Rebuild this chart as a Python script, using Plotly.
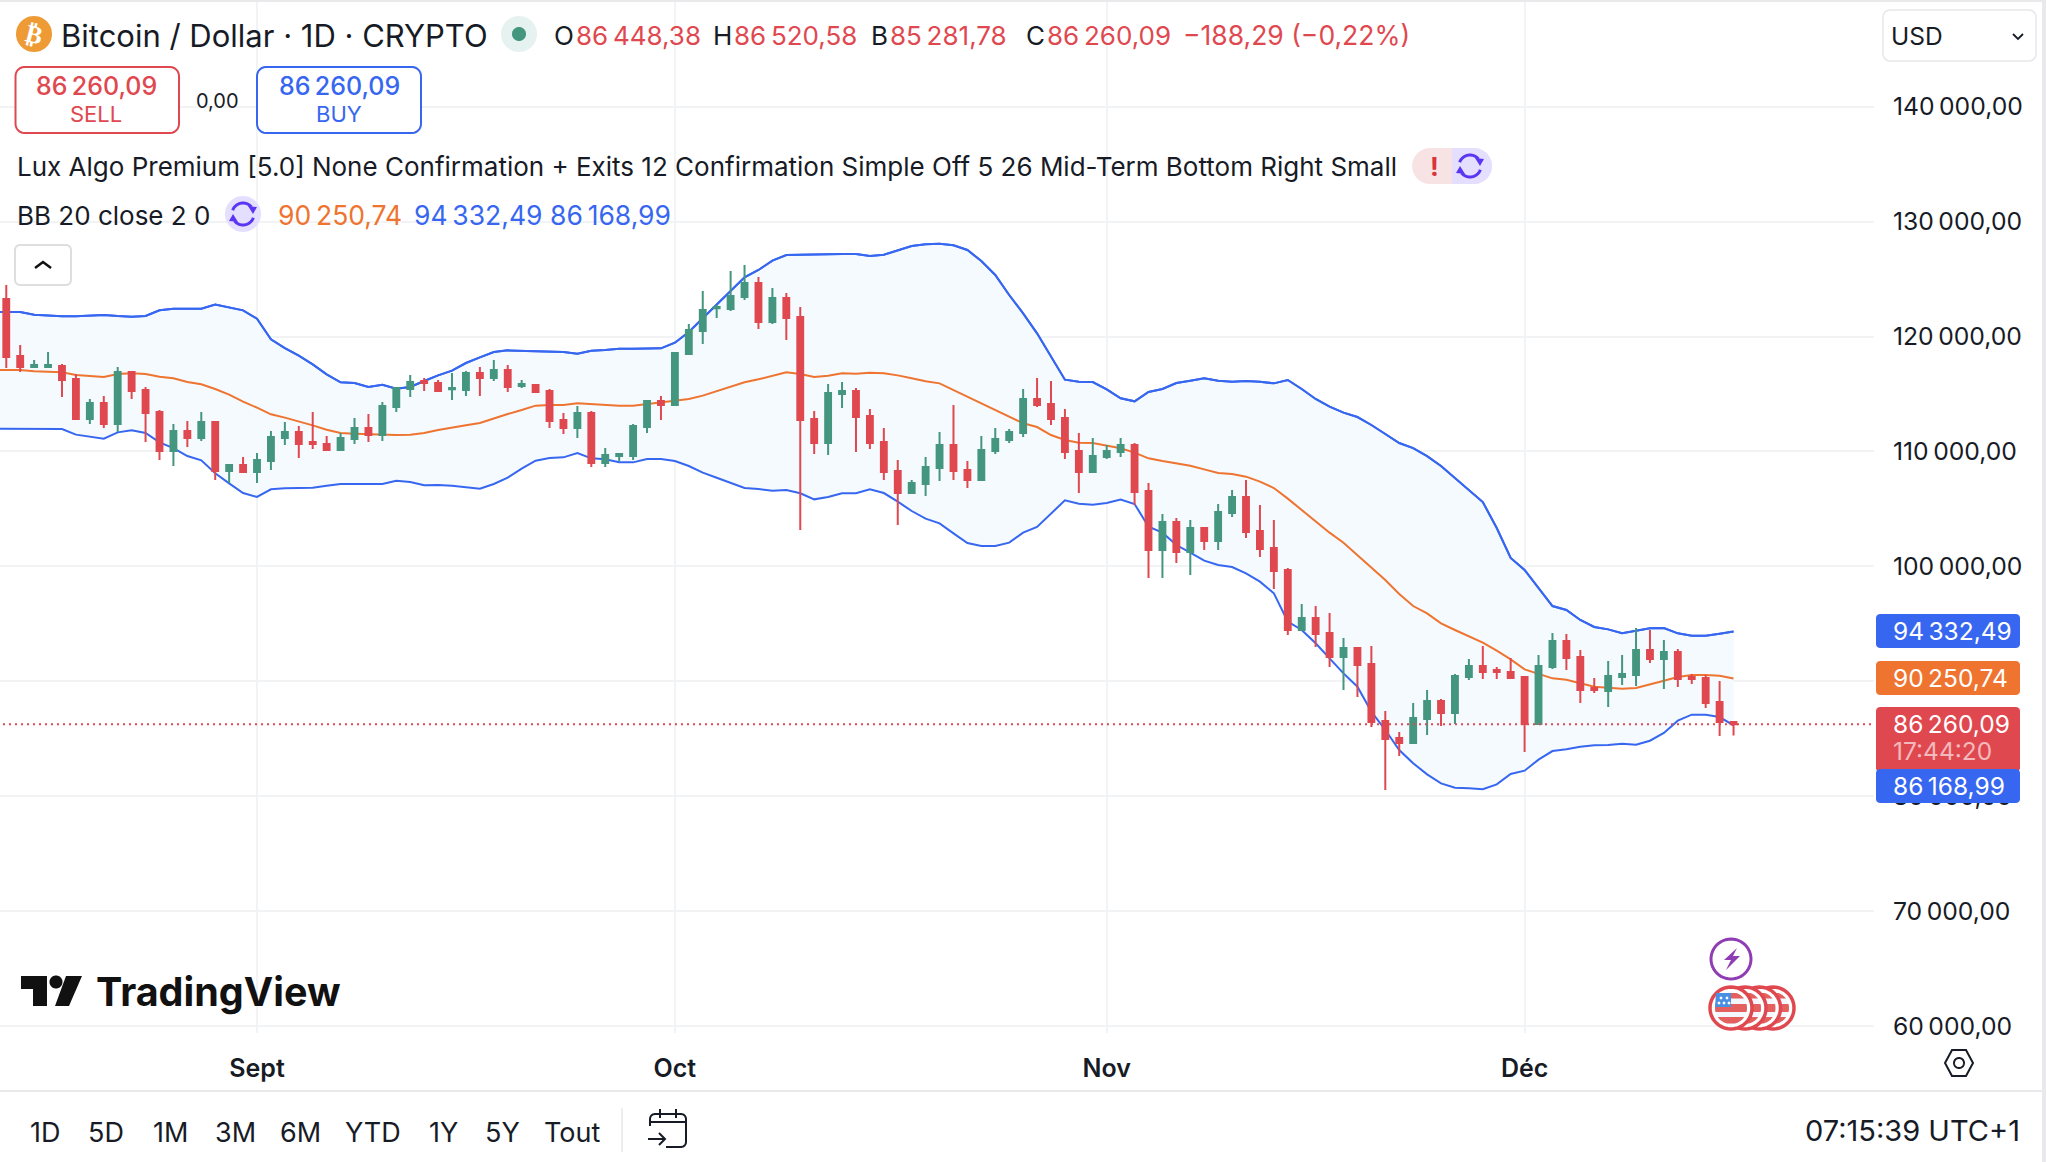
import math
import pandas as pd
import plotly.graph_objects as go

W = 2046
H = 1162
FIG_H = 1170

open_ = [
    123270,118310,117350,117350,117440,116310,112830,114220,112390,116915,
    115350,113435,110040,111780,111170,112565,108300,108820,108215,109170,
    111170,111700,110825,110650,110130,111085,112045,111435,113870,115435,
    116135,115960,115410,115350,116830,116395,117090,115700,115785,115265,
    112740,112045,113350,108995,109610,109610,112130,114395,114045,118485,
    120485,122460,122400,123445,124665,121270,123355,121705,112825,110740,
    115005,115265,113090,110825,108300,106385,107170,108560,110560,108390,
    107520,110040,111000,111610,114570,114135,112915,110040,108215,109520,
    109955,110565,106560,101425,103860,101250,103340,102210,104645,106040,
    103080,101600,99685,94465,95510,94200,92115,92900,91505,86545,
    85065,84630,86720,88285,87240,90375,91330,90985,90810,90375,
    86285,91245,93510,92115,89415,89155,90375,90550,92720,91940,
    92550,90375,90285,88200,86448.38,
]
high = [
    124490,119270,117960,118660,117615,116740,114570,114830,117350,117000,
    115610,113610,112390,112650,113435,112650,108910,109520,109870,111780,
    112565,112220,113435,111350,111610,112915,113265,114305,115525,116655,
    116395,116220,116830,117000,117350,117960,117530,116220,115875,115435,
    113350,113960,113525,110305,109785,112390,114480,114830,118660,121095,
    123965,122750,125710,126230,125185,124225,123795,122575,113525,115875,
    116045,115525,113700,112045,109260,107520,109520,111700,114045,109170,
    111350,112045,111960,115440,116395,116135,113700,111610,111175,110565,
    111175,110740,107260,104560,104210,104040,103340,105430,106650,107520,
    105345,104040,99860,96725,96550,95945,93770,92985,93070,87415,
    85585,88110,89240,88460,90635,91940,93070,91245,92025,90460,
    92290,94200,94115,92725,90285,91765,92290,94640,94465,93595,
    92810,90635,90550,90025,86520.58,
]
low = [
    117265,116915,117265,117265,114740,112830,112390,112040,111700,114570,
    110825,109260,108735,110390,110910,107520,107260,108130,107260,108390,
    110560,109435,110215,110040,110130,110650,110825,110910,113435,114740,
    115265,115175,114480,114830,114830,116135,115175,115525,115175,112045,
    111520,111170,108650,108650,109170,109260,111610,112740,113960,118395,
    119355,121620,122225,123185,120660,121095,119700,103165,109780,109695,
    113785,109955,110215,107520,103600,106385,106125,107430,107520,106825,
    107520,109780,110740,111260,113870,112305,109345,106390,108215,109345,
    109520,105345,98990,98990,100295,99250,101425,101425,104300,102470,
    100815,98030,94030,94465,92985,91245,89240,88630,86020,80540,
    83500,84630,85325,86110,86285,90110,90200,90200,90285,83845,
    86285,91070,90985,88110,88980,87765,89675,89590,91590,89330,
    89505,89765,87675,85240,85281.78,
]
close = [
    118220,117350,117530,117530,116220,112830,114220,112390,116915,115265,
    113350,110040,111780,111170,112565,108300,108820,108215,109260,111260,
    111700,110650,110650,110130,111170,112045,111435,113960,115525,116045,
    115960,115265,115525,116830,116395,117090,115610,115875,115175,112650,
    112045,113350,108995,109695,109785,112220,114395,114045,118570,120575,
    122315,122575,123530,124665,121270,123355,121620,112740,110740,115090,
    115265,112995,110740,108215,106385,107260,108650,110560,108300,107520,
    110130,111085,111700,114570,114045,112827,109955,108215,109610,110040,
    110565,106475,101425,103860,101250,103340,102210,104735,106040,102995,
    101515,99600,94465,95510,94115,92115,92900,91415,86460,84980,
    84630,86805,88285,87240,90460,91330,90810,90810,90285,86285,
    91330,93510,92025,89240,89240,90460,90635,92720,91940,92550,
    90200,90200,88110,86448.38,86260.09,
]

# bollinger bands, one day longer than the candles on the left
bb_upper = [
    122140,122140,122140,121905,121820,121760,121760,121790,121880,121790,
    121730,121790,122285,122430,122460,122430,122780,122545,122285,121560,
    119760,119005,118340,117585,116715,116020,115960,115610,115815,115470,
    115610,116135,116625,117035,117700,118195,118660,118800,118775,118715,
    118660,118660,118515,118775,118830,118950,118950,118975,118975,119470,
    120400,121590,122750,123910,125155,125795,126605,127100,127130,127185,
    127185,127185,127185,127010,127130,127475,127885,128030,128085,127940,
    127535,126580,125360,123620,122025,120285,118250,116250,116075,116047,
    115410,114625,114365,115175,115440,115960,116165,116365,116165,116075,
    116135,116075,115930,116220,115440,114570,113900,113380,113000,112305,
    111520,110740,110300,109600,108735,107700,106650,105600,103340,100730,
    99685,98090,96550,96205,95335,94725,94520,94175,94375,94610,
    94640,94175,93970,93970,94145,94332.49,
]
bb_mid = [
    117090,117090,117090,116975,116945,116890,116655,116540,116480,116740,
    116800,116740,116510,116365,116045,115845,115440,114945,114335,113815,
    113235,112945,112625,112275,111900,111610,111550,111490,111465,111435,
    111465,111610,111870,112045,112275,112480,112885,113260,113610,113990,
    114045,114045,114190,114105,114045,113990,113990,114135,114220,114395,
    114570,114860,115265,115670,116020,116280,116570,116890,116745,116480,
    116600,116800,116770,116860,116800,116625,116365,116105,115930,115350,
    114710,114135,113610,113030,112450,112130,111435,111000,110770,110740,
    110505,110275,109900,109405,109170,108940,108765,108445,108130,108040,
    107810,107375,106820,105895,104935,103950,102935,102065,100990,99830,
    98815,97595,96550,95915,95045,94465,93885,93360,92665,91910,
    91040,90635,90255,90140,89820,89530,89445,89360,89415,89705,
    90055,90375,90550,90550,90490,90250.74,
]
bb_lower = [
    111985,111985,111985,112015,112015,111955,111465,111290,111115,111665,
    111840,111610,110795,110300,109605,109230,108100,107230,106385,106040,
    106705,106790,106790,106850,107025,107170,107170,107200,107170,107460,
    107345,107055,107085,107025,106910,106765,107170,107720,108505,109200,
    109435,109490,109870,109405,109320,109055,109055,109345,109345,109170,
    108735,108155,107720,107285,106820,106735,106590,106650,106360,105835,
    106040,106360,106360,106705,106385,105630,104820,104155,103745,102875,
    102035,101775,101775,102065,102935,103430,104620,105750,105460,105370,
    105515,105810,105430,103457,102935,101860,101195,100500,100120,99950,
    99395,98670,97655,95190,94465,93305,92000,90690,89530,87355,
    85760,84020,82860,81900,81120,80740,80685,80600,81030,81930,
    82220,83180,83930,84080,84310,84425,84455,84570,84485,84830,
    85500,86575,87095,87095,86890,86168.99,
]

price_ticks = [60000, 70000, 80000, 90000, 100000, 110000, 120000, 130000, 140000]
month_ticks = ["2025-09-01", "2025-10-01", "2025-11-01", "2025-12-01"]
month_labels = ["Sept", "Oct", "Nov", "Déc"]
last_price = 86260.09

candle_dates = pd.date_range("2025-08-14", periods=len(close), freq="D")
band_dates = pd.date_range("2025-08-13", periods=len(bb_mid), freq="D")

GREEN = "#44967F"
RED = "#E04850"
BLUE = "#3767F0"
ORANGE = "#EE7430"
BAND = "#F4FAFE"
GRID = "#F2F3F5"
INK = "#171B26"
VIOLET = "#5B36F2"
NB = "\u202f"
FONT = "Inter"

x_range = ["2025-08-13 13:12", "2025-12-26 02:00"]
y_range = [59391, 149293]
x_dom = [0, 1874 / W]
y_dom = [1 - 1033 / H, 1]

fig = go.Figure()
fig.add_trace(go.Scatter(x=band_dates, y=bb_upper, mode="lines", line=dict(color=BLUE, width=2)))
fig.add_trace(go.Scatter(x=band_dates, y=bb_lower, mode="lines", line=dict(color=BLUE, width=2),
                         fill="tonexty", fillcolor=BAND))
# redraw lines over the fill
fig.add_trace(go.Scatter(x=band_dates, y=bb_upper, mode="lines", line=dict(color=BLUE, width=2)))
fig.add_trace(go.Scatter(x=band_dates, y=bb_mid, mode="lines", line=dict(color=ORANGE, width=2)))

# candles sit on an overlay axis pair, otherwise the band fill covers them
fig.add_trace(go.Candlestick(
    x=candle_dates, open=open_, high=high, low=low, close=close,
    xaxis="x2", yaxis="y2",
    increasing=dict(line=dict(color=GREEN, width=2), fillcolor=GREEN),
    decreasing=dict(line=dict(color=RED, width=2), fillcolor=RED),
))


def px(x):
    return x / W


def py(y):
    return 1 - y / H


def path_of(points, closed=False):
    parts = []
    for i, (x, y) in enumerate(points):
        parts.append(("M" if i == 0 else "L") + f"{px(x):.5f},{py(y):.5f}")
    return " ".join(parts) + (" Z" if closed else "")


def arc_points(cx, cy, r, a0, a1, n=24):
    out = []
    for i in range(n + 1):
        a = math.radians(a0 + (a1 - a0) * i / n)
        out.append((cx + r * math.cos(a), cy + r * math.sin(a)))
    return out


def poly(points, fill=None, line=None, width=0, closed=True):
    fig.add_shape(type="path", xref="paper", yref="paper", path=path_of(points, closed),
                  fillcolor=fill if fill else "rgba(0,0,0,0)",
                  line=dict(color=line if line else "rgba(0,0,0,0)", width=width), layer="above")


def round_rect(x0, y0, x1, y1, r, fill=None, line=None, width=0):
    pts = (arc_points(x1 - r, y0 + r, r, -90, 0, 6) + arc_points(x1 - r, y1 - r, r, 0, 90, 6)
           + arc_points(x0 + r, y1 - r, r, 90, 180, 6) + arc_points(x0 + r, y0 + r, r, 180, 270, 6))
    poly(pts, fill, line, width)


def circle(cx, cy, r, fill=None, line=None, width=0):
    poly(arc_points(cx, cy, r, 0, 360, 48), fill, line, width)


def label(x, y, text, color=INK, size=26, anchor="left", weight=400, font=FONT, angle=0):
    fig.add_annotation(x=px(x), y=py(y), xref="paper", yref="paper", text=text, showarrow=False,
                       xanchor=anchor, yanchor="middle", textangle=angle, borderpad=0,
                       font=dict(family=font, size=size, color=color, weight=weight))


def sync_icon(cx, cy, r=11):
    poly(arc_points(cx, cy, r, 200, 320), line=VIOLET, width=3, closed=False)
    poly(arc_points(cx, cy, r, 20, 140), line=VIOLET, width=3, closed=False)
    poly([(cx + r + 3, cy - 7), (cx + r - 6, cy - 8), (cx + r - 1, cy + 0)], fill=VIOLET)
    poly([(cx - r - 3, cy + 7), (cx - r + 6, cy + 8), (cx - r + 1, cy + 0)], fill=VIOLET)


def stripe(cx, cy, r, y0, y1, color):
    # piece of a disc between two heights
    steps = 6
    right = []
    left = []
    for i in range(steps + 1):
        y = y0 + (y1 - y0) * i / steps
        d = math.sqrt(max(r * r - y * y, 0))
        right.append((cx + d, cy + y))
        left.append((cx - d, cy + y))
    poly(right + left[::-1], fill=color)


def flag_coin(cx, cy):
    circle(cx, cy, 21, fill="#FFFFFF", line=RED, width=3.5)
    circle(cx, cy, 16, fill="#F3F6FC")
    stripe(cx, cy, 16, -15, -9.5, "#E4605F")
    stripe(cx, cy, 16, -4, 4, "#E4605F")
    stripe(cx, cy, 16, 9, 15.5, "#E4605F")


# window edges
fig.add_shape(type="rect", xref="paper", yref="paper", x0=0, x1=1, y0=py(2), y1=1,
              fillcolor="#E9E9EB", line_width=0, layer="above")
fig.add_shape(type="rect", xref="paper", yref="paper", x0=px(2042), x1=1, y0=0, y1=1,
              fillcolor="#E9E9EB", line_width=0, layer="above")
fig.add_shape(type="rect", xref="paper", yref="paper", x0=0, x1=px(2042), y0=py(1092), y1=py(1090),
              fillcolor="#E9E9EB", line_width=0, layer="above")

# last price line
fig.add_shape(type="line", xref="paper", yref="y", x0=px(3), x1=px(1874), y0=last_price, y1=last_price,
              line=dict(color=RED, width=2, dash="2px,4px"), layer="above")

# header row
circle(34, 34, 18, fill="#EE9B35")
label(34, 34, "₿", color="#FFFFFF", size=25, anchor="center", weight=700, font="DejaVu Sans", angle=14)
label(60, 35, "Bitcoin / Dollar · 1D · CRYPTO", size=31)
circle(519, 34, 18, fill="#E6F2EF")
circle(519, 34, 7, fill=GREEN)

ohlc_x = [(553, "O", 575, f"86{NB}448,38"), (712, "H", 733, f"86{NB}520,58"),
          (870, "B", 889, f"85{NB}281,78"), (1025, "C", 1046, f"86{NB}260,09")]
for lx, name, vx, val in ohlc_x:
    label(lx, 35, name, size=26)
    label(vx, 35, val, color=RED, size=26)
label(1182, 35, f"−188,29 (−0,22%)", color=RED, size=26.5)

# sell / buy boxes
round_rect(15.5, 67, 179, 133, 9, fill="#FFFFFF", line=RED, width=2)
round_rect(257, 67, 421, 133, 9, fill="#FFFFFF", line=BLUE, width=2)
label(96, 86, f"86{NB}260,09", color=RED, size=25, anchor="center", weight=500)
label(96, 114, "SELL", color=RED, size=22, anchor="center")
label(339, 86, f"86{NB}260,09", color=BLUE, size=25, anchor="center", weight=500)
label(339, 114, "BUY", color=BLUE, size=22, anchor="center")
label(217, 101, "0,00", size=20, anchor="center")

# indicator rows
label(16, 167, "Lux Algo Premium [5.0] None Confirmation + Exits 12 Confirmation Simple Off 5 26 Mid-Term Bottom Right Small", size=26)
round_rect(1412, 148, 1492, 184, 18, fill="#F8E3E4")
poly([(1452, 148), (1474, 148)] + arc_points(1474, 166, 18, -90, 90, 12) + [(1452, 184)], fill="#E4DFFF")
label(1434, 167, "!", color="#D8343C", size=26, anchor="center", weight=700)
sync_icon(1470, 166)

label(16, 215, "BB 20 close 2 0", size=26)
circle(243, 214, 18, fill="#E4DFFF")
sync_icon(243, 214)
label(277, 215, f"90{NB}250,74", color=ORANGE, size=26.5)
label(413, 215, f"94{NB}332,49", color=BLUE, size=26.5)
label(549, 215, f"86{NB}168,99", color=BLUE, size=26.5)

round_rect(15, 245, 71, 285, 5, fill="#FFFFFF", line="#DDDEE0", width=2)
poly([(35, 268), (43, 262), (51, 268)], line="#111111", width=2.5, closed=False)

# currency picker
round_rect(1883, 10, 2036, 61, 7, fill="#FFFFFF", line="#E6E7EA", width=1.5)
label(1890, 36, "USD", size=24.5)
poly([(2013, 34), (2018, 39), (2023, 34)], line=INK, width=1.8, closed=False)

# price tags
round_rect(1876, 614, 2020, 648, 4, fill=BLUE)
label(1892, 631, f"94{NB}332,49", color="#FFFFFF", size=24.5)
round_rect(1876, 661, 2020, 695, 4, fill=ORANGE)
label(1892, 678, f"90{NB}250,74", color="#FFFFFF", size=24.5)
round_rect(1876, 707, 2020, 772, 4, fill=RED)
label(1892, 724, f"86{NB}260,09", color="#FFFFFF", size=24.5)
label(1892, 751, "17:44:20", color="#F3B9BC", size=24.5)
round_rect(1876, 769, 2020, 803, 4, fill=BLUE)
label(1892, 786, f"86{NB}168,99", color="#FFFFFF", size=24.5)

# logo
poly([(21, 976), (47, 976), (47, 1006), (33, 1006), (33, 989), (21, 989)], fill="#111111")
circle(56, 982, 6.5, fill="#111111")
poly([(66, 976), (82, 976), (69, 1006), (55, 1006)], fill="#111111")
label(95, 992, "TradingView", color="#111111", size=39.5, weight=700)

# event badges
circle(1731, 959, 20, fill="#FFFFFF", line="#8E3DB4", width=3)
poly([(1737, 948), (1724, 960), (1731, 960), (1726, 970), (1740, 956), (1733, 956)], fill="#8E3DB4")
for cx in [1773, 1759.5, 1745]:
    flag_coin(cx, 1008)
flag_coin(1731, 1008)
poly([(1716, 993), (1731, 993), (1731, 1007), (1715, 1007)], fill="#4A90E2")
for sx, sy in [(1721, 998), (1727, 998), (1719, 1003), (1724, 1003), (1729, 1003)]:
    circle(sx, sy, 1.4, fill="#FFFFFF")

# hex settings icon
poly([(1945, 1063), (1952, 1050), (1966, 1050), (1973, 1063), (1966, 1076), (1952, 1076)],
     line=INK, width=2)
circle(1959, 1063, 5, line=INK, width=2)

# range toolbar
for cx, txt in zip([45, 106, 170, 235, 300, 373, 443, 502, 572],
                   ["1D", "5D", "1M", "3M", "6M", "YTD", "1Y", "5Y", "Tout"]):
    label(cx, 1132, txt, size=27, anchor="center")
poly([(622, 1108), (622, 1152)], line="#E6E7EA", width=1.5, closed=False)
round_rect(650, 1114, 686, 1147, 5, line=INK, width=2)
fig.add_shape(type="rect", xref="paper", yref="paper", x0=px(646), x1=px(666), y0=py(1150), y1=py(1126),
              fillcolor="#FFFFFF", line_width=0, layer="above")
poly([(650, 1122), (686, 1122)], line=INK, width=2, closed=False)
poly([(660, 1109), (660, 1118)], line=INK, width=2, closed=False)
poly([(676, 1109), (676, 1118)], line=INK, width=2, closed=False)
poly([(648, 1139), (665, 1139)], line=INK, width=2, closed=False)
poly([(659, 1133), (665, 1139), (659, 1145)], line=INK, width=2, closed=False)
label(2021, 1130, "07:15:39 UTC+1", size=29, anchor="right")

fig.update_layout(
    width=W, height=FIG_H,
    margin=dict(l=0, r=0, t=0, b=0),
    paper_bgcolor="#FFFFFF", plot_bgcolor="#FFFFFF",
    showlegend=False, hovermode=False,
    separators=",\u202f",
    boxgap=0.4,
    font=dict(family=FONT, color=INK),
    xaxis=dict(
        domain=x_dom, range=x_range, type="date", tickmode="array",
        tickvals=month_ticks, ticktext=month_labels, ticks="", ticklabelstandoff=18,
        tickfont=dict(family=FONT, size=25, color=INK, weight=600),
        showgrid=True, gridcolor=GRID, gridwidth=1.5, zeroline=False, showline=False,
        rangeslider=dict(visible=False),
    ),
    yaxis=dict(
        domain=y_dom, range=y_range, side="right", tickmode="array", tickvals=price_ticks,
        tickformat=",.2f", ticks="", ticklabelstandoff=18,
        tickfont=dict(family=FONT, size=24.7, color=INK),
        showgrid=True, gridcolor=GRID, gridwidth=1.5, zeroline=False, showline=False,
    ),
    xaxis2=dict(domain=x_dom, range=x_range, type="date", overlaying="x", visible=False,
                rangeslider=dict(visible=False)),
    yaxis2=dict(domain=y_dom, range=y_range, overlaying="y", visible=False),
)

fig.write_html("out.html", config=dict(displayModeBar=False),
               post_script="document.body.style.margin='0';document.documentElement.style.overflow='hidden';")
